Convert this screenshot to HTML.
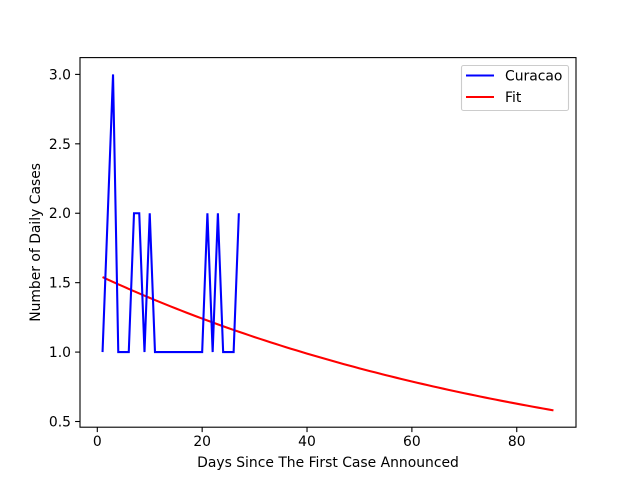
<!DOCTYPE html>
<html><head><meta charset="utf-8"><style>
body{margin:0;background:#fff;}
svg text{font-family:"DejaVu Sans","Liberation Sans",sans-serif;}
</style></head><body>
<svg id="c" width="640" height="480" xmlns="http://www.w3.org/2000/svg"></svg>
<script>
const days = [1,2,3,4,5,6,7,8,9,10,11,12,13,14,15,16,17,18,19,20,21,22,23,24,25,26,27];
const cases = [1,2,3,1,1,1,2,2,1,2,1,1,1,1,1,1,1,1,1,1,2,1,2,1,1,1,2];
const fitParams = [1.5576, 0.01135];
const fitRange = [1, 87];
const xTicks = [0,20,40,60,80];
const yTicks = [0.5,1.0,1.5,2.0,2.5,3.0];
const L=80,R=576,T=57.6,B=427.2,FS=13.9,LW=2.08;
const xmin=-3.3,xmax=91.3,ymin=0.459,ymax=3.121;
const X=v=>L+(v-xmin)/(xmax-xmin)*(R-L);
const Y=v=>B-(v-ymin)/(ymax-ymin)*(B-T);
const svg=document.getElementById('c');
const NS='http://www.w3.org/2000/svg';
function mk(t,a,p){const e=document.createElementNS(NS,t);for(const k in a)e.setAttribute(k,a[k]);(p||svg).appendChild(e);return e;}
const fx=[];for(let x=fitRange[0];x<=fitRange[1];x+=1)fx.push(x);
const fit=mk('polyline',{points:fx.map(x=>X(x)+','+Y(fitParams[0]*Math.exp(-fitParams[1]*x))).join(' '),fill:'none',stroke:'#ff0000','stroke-width':LW});


const cur=mk('polyline',{points:days.map((d,i)=>X(d)+','+Y(cases[i])).join(' '),fill:'none',stroke:'#0000ff','stroke-width':LW});


const frame=mk('rect',{x:L,y:T,width:R-L,height:B-T,fill:'none',stroke:'#000','stroke-width':1.1});


xTicks.forEach(v=>{mk('line',{x1:X(v),x2:X(v),y1:B,y2:B+4.9,stroke:'#000','stroke-width':1.1});
 const t=mk('text',{x:X(v),y:B+19,'text-anchor':'middle','font-size':FS});t.textContent=v;
 
 });
yTicks.forEach(v=>{mk('line',{x1:L-4.9,x2:L,y1:Y(v),y2:Y(v),stroke:'#000','stroke-width':1.1});
 const t=mk('text',{x:L-9,y:Y(v)+5,'text-anchor':'end','font-size':FS});t.textContent=v.toFixed(1);
 
 });
const xt=mk('text',{x:(L+R)/2,y:467,'text-anchor':'middle','font-size':FS});xt.textContent='Days Since The First Case Announced';


const yt=mk('text',{x:0,y:0,'text-anchor':'middle','font-size':FS,transform:`translate(40,${(T+B)/2}) rotate(-90)`});yt.textContent='Number of Daily Cases';


const lg=mk('g',{});


mk('rect',{x:461.5,y:65.5,width:107,height:45,rx:2,fill:'#fff',stroke:'#ccc','stroke-width':1.1},lg);
mk('line',{x1:466,x2:494,y1:75.5,y2:75.5,stroke:'#0000ff','stroke-width':LW},lg);
mk('line',{x1:466,x2:494,y1:97,y2:97,stroke:'#ff0000','stroke-width':LW},lg);
const l1=mk('text',{x:505,y:80.5,'font-size':FS},lg);l1.textContent='Curacao';


const l2=mk('text',{x:505,y:102,'font-size':FS},lg);l2.textContent='Fit';


</script>
</body></html>
